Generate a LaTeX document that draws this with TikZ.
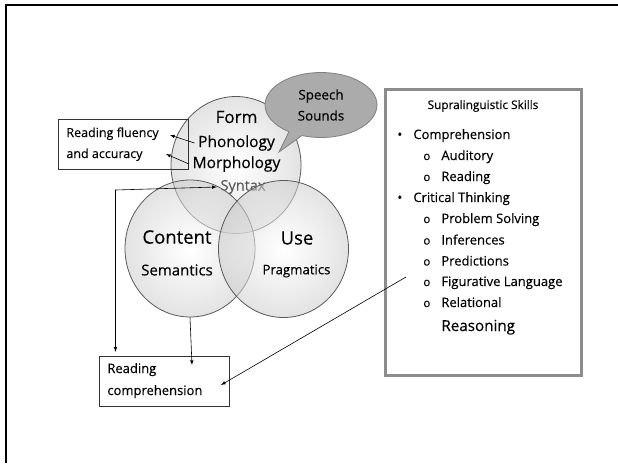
\documentclass[tikz,border=0pt]{standalone}
\usepackage{fontspec}
\setmainfont{Open Sans}[FakeBold=0.3]
\usetikzlibrary{shapes.geometric,shapes.callouts}

\newcommand{\fsz}[1]{\fontsize{#1}{#1}\selectfont}

\begin{document}
\begin{tikzpicture}[x=1pt,y=-1pt,thick]
	\tikzstyle{venn}=[ellipse,draw=black!65,inner color=white,outer color=black!20,fill opacity=0.55,minimum width=130pt,minimum height=137pt,inner sep=0pt]
	\tikzstyle{txtbox}=[draw=black!80,thin,minimum width=130pt,minimum height=50pt,inner sep=0pt]
	\tikzstyle{item}=[anchor=base west,inner sep=0pt,font=\fsz{13}]
	\tikzstyle{conn}=[-latex,semithick]
	\useasboundingbox (0,0) rectangle (618,463);
	
	% frame
	\draw[line width=2pt] (6,463) -- (6,5) -- (618,5);
	
	% Form circle and its labels
	\node[venn] (form) at (236,165) {};
	\node[font=\fsz{17}] (form-lbl) at (236.5,117) {Form};
	\node[font=\fsz{15.5}] (phon) at (236.5,143) {Phonology};
	\node[font=\fsz{15.5}] (morph) at (236.5,164) {Morphology};
	\node[font=\fsz{14.5},text=black!65] (syn) at (243,187) {Syntax};
	
	% Content and Use circles
	\node[venn] (content) at (190,248.5) {};
	\node[venn] (use) at (283.5,249) {};
	\node[font=\fsz{18.5}] (content-lbl) at (177,237) {Content};
	\node[font=\fsz{15}] (sem) at (177,270) {Semantics};
	\node[font=\fsz{18.5}] (use-lbl) at (297,238) {Use};
	\node[font=\fsz{13.2}] (prag) at (296.5,271) {Pragmatics};
	
	% speech bubble
	\node[ellipse callout,callout absolute pointer={(279,152)},draw=black!50,fill=black!33,minimum width=112pt,minimum height=65pt,align=center,font=\fontsize{13.4}{21}\selectfont] (speech) at (321,105) {Speech\\Sounds};
	
	% reading boxes
	\node[txtbox] (fluency) at (123,144) {};
	\node[item,font=\fsz{12.5}] (flu-1) at (66,137) {Reading fluency};
	\node[item,font=\fsz{12.5}] (flu-2) at (66,158) {and accuracy};
	\node[txtbox] (rcomp) at (164.3,381) {};
	\node[item] (rc-1) at (107,373) {Reading};
	\node[item] (rc-2) at (107,395) {comprehension};
	
	% supralinguistic skills
	\node[draw=black!45,line width=2.5pt,minimum width=196pt,minimum height=286pt] (skills) at (483.5,232.5) {};
	\node[item,anchor=base,font=\fsz{11.8}] (skills-ttl) at (483,109) {Supralinguistic Skills};
	\foreach \txt/\lvl/\y in {Comprehension/1/135, Auditory/2/156, Reading/2/177,
		Critical Thinking/1/198, Problem Solving/2/219, Inferences/2/240.5,
		Predictions/2/261.5, Figurative Language/2/282, Relational/2/303}{
		\ifnum\lvl=1
			\node[item] at (397,\y+4) {\textbullet};
			\node[item] at (413,\y+4) {\txt};
		\else
			\node[item,font=\fsz{11.5}] at (423,\y+4) {o};
			\node[item] at (441,\y+4) {\txt};
		\fi
	}
	\node[item,font=\fsz{15.2}] (reason) at (441,331) {Reasoning};
	
	% connectors
	\coordinate (flu-end1) at (170,135);
	\coordinate (flu-end2) at (166,154);
	\coordinate (bend) at (115.5,190);
	\coordinate (c-end) at (192,365);
	\coordinate (skill-pt) at (406,277);
	\coordinate (comp-pt) at (221,385);
	\draw[conn] (phon.west) -- (flu-end1);
	\draw[conn] (morph.west) -- (flu-end2);
	\draw[conn,latex-latex,shorten >=4pt] (syn.west) -- (bend) -- (bend |- rcomp.north);
	\draw[conn] (content.south) -- (c-end);
	\draw[conn] (skill-pt) -- (comp-pt);
\end{tikzpicture}
\end{document}
